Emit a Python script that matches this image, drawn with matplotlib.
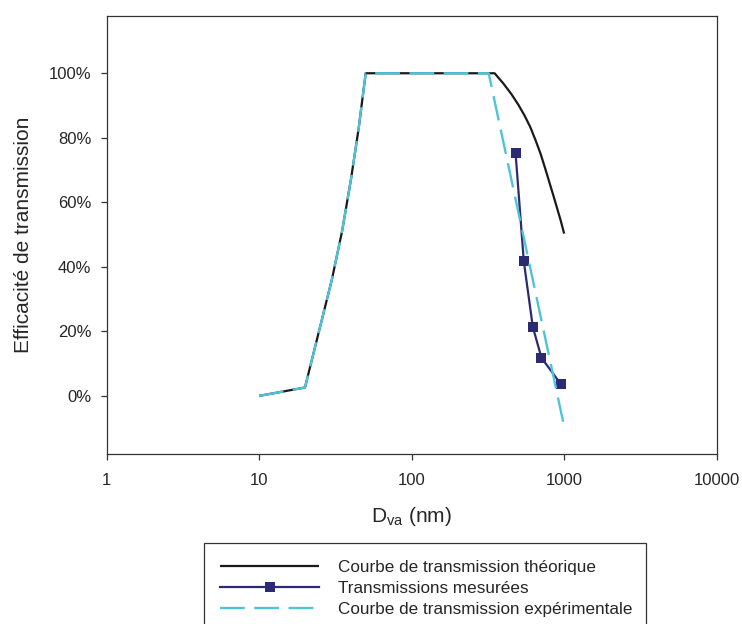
import matplotlib
matplotlib.use("Agg")
import matplotlib.pyplot as plt
from matplotlib.ticker import FixedLocator, FuncFormatter, NullLocator

plt.rcParams['font.family'] = ['Liberation Sans', 'DejaVu Sans']
plt.rcParams['mathtext.fontset'] = 'custom'
plt.rcParams['mathtext.rm'] = 'Liberation Sans'

# Particle diameter (nm) and transmission efficiency (%)
theo_d = [10, 20, 30, 35, 40, 45, 50, 350, 400, 450, 500, 550, 600, 650,
          700, 750, 800, 850, 900, 950, 1000]
theo_eff = [0, 2.6, 36, 51, 67, 83, 100, 100, 96.8, 93.6, 90.3, 86.9, 83.3, 79.2,
            75.1, 70.6, 66.2, 62.1, 58.1, 54.3, 50.3]

meas_d = [480, 544, 623, 710, 950]
meas_eff = [75.4, 41.7, 21.4, 11.8, 3.7]

exp_d = [10, 20, 30, 35, 40, 45, 50, 320, 1000]
exp_eff = [0, 2.6, 36, 51, 67, 83, 100, 100, -9.5]

labels = ["Courbe de transmission théorique",
          "Transmissions mesurées",
          "Courbe de transmission expérimentale"]

x_ticks = [1, 10, 100, 1000, 10000]
y_ticks = [0, 20, 40, 60, 80, 100]

BLACK = '#1a1a1a'
NAVY = '#2d2a74'
CYAN = '#4fc3d8'
EDGE = '#333333'

fig = plt.figure(figsize=(7.42, 6.24), dpi=100)
W, H = 742, 624
x0, x1, y0, y1 = 106.5, 716.7, 15.5, 454.3
ax = fig.add_axes([x0 / W, 1 - y1 / H, (x1 - x0) / W, (y1 - y0) / H])

l1, = ax.plot(theo_d, theo_eff, color=BLACK, lw=1.6, solid_capstyle='butt', zorder=2)
l2, = ax.plot(meas_d, meas_eff, color=NAVY, lw=1.6, marker='s', markersize=7.5,
              markeredgewidth=0, zorder=3)
l3, = ax.plot(exp_d, exp_eff, color=CYAN, lw=1.7, linestyle=(0, (10.5, 4.0)),
              dash_capstyle='butt', zorder=4)

ax.set_xscale('log')
ax.set_xlim(1, 10000)
ax.set_ylim(-18.1, 117.9)
ax.xaxis.set_major_locator(FixedLocator(x_ticks))
ax.xaxis.set_minor_locator(NullLocator())
ax.xaxis.set_major_formatter(FuncFormatter(lambda v, p: f"{v:g}"))
ax.yaxis.set_major_locator(FixedLocator(y_ticks))
ax.yaxis.set_major_formatter(FuncFormatter(lambda v, p: f"{v:.0f}%"))

for s in ax.spines.values():
    s.set_linewidth(0.9)
    s.set_color(EDGE)
ax.tick_params(axis='both', which='major', direction='out', length=4.5, width=0.9,
               color=EDGE, labelsize=12, labelcolor='#262626')
ax.tick_params(axis='x', pad=9)
ax.tick_params(axis='y', pad=6.5)

ax.set_xlabel(r'D$_{\mathregular{va}}$ (nm)', fontsize=15, color='#262626', labelpad=12.5)
ax.set_ylabel('Efficacité de transmission', fontsize=15, color='#262626', labelpad=11)

leg = fig.legend([l1, l2, l3], labels, loc='upper left',
                 bbox_to_anchor=(204 / W, 1 - 543.3 / H, 442 / W, 0.0),
                 mode='expand', borderaxespad=0, fontsize=12.3, frameon=True,
                 fancybox=False, shadow=False, framealpha=1, edgecolor=EDGE,
                 handlelength=5.8, handletextpad=1.1, borderpad=0.95,
                 labelspacing=0.36, numpoints=1)
leg.get_frame().set_linewidth(0.9)
for t in leg.get_texts():
    t.set_color('#262626')

fig.savefig('out.png', dpi=100)
